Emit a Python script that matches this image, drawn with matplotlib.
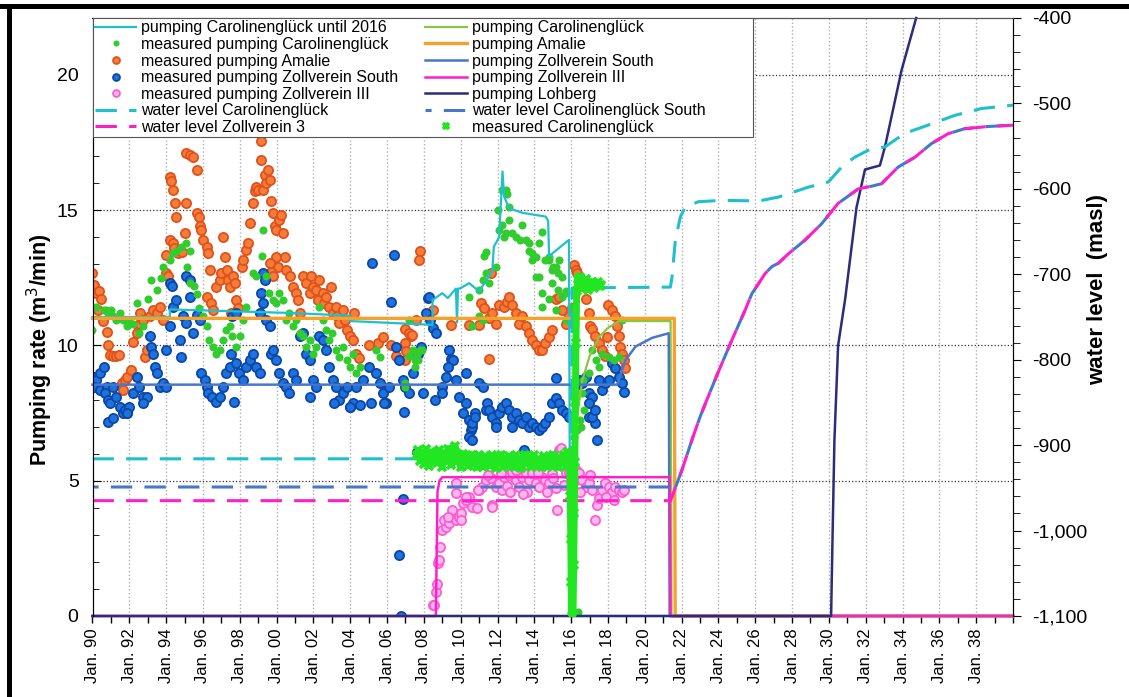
import matplotlib
matplotlib.use("Agg")
import matplotlib.pyplot as plt
import numpy as np
from matplotlib.lines import Line2D
from matplotlib.patches import Rectangle
from matplotlib.ticker import MultipleLocator, FuncFormatter

plt.rcParams["font.family"] = ["Liberation Sans", "DejaVu Sans"]

# ---------------- data ----------------
# modelled pumping rates (m3/min), left axis
cyan_pump_year = [1990, 1994.2, 1994.2, 2000.7, 2004.0, 2004.0, 2008.47, 2008.47, 2009.0, 2009.3,
                  2009.74, 2009.8, 2009.85, 2009.95, 2010.46, 2011.0, 2011.54, 2011.72, 2011.8,
                  2012.09, 2012.27, 2012.36, 2012.63, 2013.35, 2014.62, 2014.75, 2014.8, 2015.88,
                  2015.95, 2040]
cyan_pump = [11.05, 11.05, 11.33, 11.2, 11.1, 10.9, 10.76, 11.68, 11.93, 11.75,
             12.1, 10.85, 12.1, 12.1, 12.3, 12.0, 12.56, 12.8, 13.65,
             14.0, 16.43, 15.5, 15.07, 14.9, 14.76, 14.6, 13.3, 13.9,
             0, 0]

carol_pump_year = [1990, 2016.15, 2016.2, 2016.3, 2016.6, 2017.0, 2017.5, 2018.0, 2018.6, 2021.4, 2021.45, 2040]
carol_pump = [0, 0, 4.0, 7.3, 8.7, 9.6, 10.3, 10.65, 10.9, 10.9, 0, 0]

amalie_pump_year = [1990, 2021.6, 2021.65, 2040]
amalie_pump = [11.0, 11.0, 0, 0]

zvs_pump_year = [1990, 2018.5, 2018.95, 2019.5, 2020.4, 2021.3, 2021.35, 2040]
zvs_pump = [8.55, 8.55, 9.46, 9.96, 10.28, 10.45, 0, 0]

zv3_pump_year = [1990, 2008.65, 2008.7, 2008.74, 2008.85, 2009.0, 2021.35, 2021.4, 2040]
zv3_pump = [0, 0, 2.5, 4.6, 5.0, 5.13, 5.13, 0, 0]

lohberg_year = [1990, 2030.12, 2030.2, 2030.3, 2030.5, 2030.88, 2031.5, 2031.96, 2032.77, 2033.05,
                2033.95, 2034.74]
lohberg_pump = [0, 0, 3.0, 6.5, 10.0, 11.7, 15.1, 16.5, 16.65, 17.35, 20.18, 22.1]

# modelled water levels (masl), right axis
cyan_wl_year = [1990, 2016.02, 2016.05, 2021.39, 2021.48, 2021.66, 2021.93, 2022.2, 2022.92, 2024.2,
                2025.81, 2026.35, 2027.26, 2028.88, 2029.97, 2030.69, 2031.4, 2032.3, 2033.04,
                2034.12, 2035.57, 2036.83, 2038.28, 2040]
cyan_wl = [-916, -916, -716, -715, -703, -660, -633, -621, -615, -613.5,
           -614, -613.5, -609.6, -598, -592, -574.5, -563, -553, -551,
           -535, -524, -514, -506, -502]

zv3_wl_year = [1990, 2021.4, 2021.57, 2022.02, 2022.56, 2023.0, 2023.37, 2023.92, 2024.73, 2025.45,
               2025.81, 2026.54, 2026.9, 2027.26, 2027.8, 2028.7, 2029.6, 2030.5, 2031.6, 2032.3,
               2032.86, 2033.76, 2034.67, 2035.57, 2036.47, 2037.37, 2038.64, 2040]
zv3_wl = [-965, -965, -955, -929, -894, -867, -847, -818, -777, -742,
          -723, -699, -691, -687, -676, -660, -641, -617, -600, -597,
          -594, -574.5, -563, -547, -535.5, -529.6, -527, -525.5]

south_wl_year = [1990, 2021.4] + zv3_wl_year[2:]
south_wl = [-949, -949] + zv3_wl[2:]

# measured pumping rates (year, m3/min)
green_pts = [
    (1990.0, 10.57), (1990.2, 11.43), (1990.6, 11.3), (1990.75, 11.3), (1990.85, 11.2), (1991.0, 11.3),
    (1991.1, 11.07), (1991.3, 10.94), (1991.5, 11.2), (1991.65, 10.94), (1991.85, 10.7), (1992.0, 10.94),
    (1992.2, 10.8), (1992.4, 11.56), (1992.55, 10.45), (1992.75, 10.7), (1993.0, 11.7), (1993.2, 12.4),
    (1993.5, 12.05), (1993.7, 12.5), (1993.85, 12.9), (1994.2, 13.15), (1994.35, 13.4), (1994.55, 13.5),
    (1994.8, 13.65), (1995.1, 13.8), (1995.3, 13.5), (1995.15, 12.9), (1995.3, 12.3), (1995.5, 12.2),
    (1995.65, 11.9), (1995.8, 11.4), (1996.0, 11.07), (1996.2, 10.7), (1996.35, 10.2), (1996.55, 9.95),
    (1996.7, 9.7), (1996.9, 9.83), (1997.1, 10.2), (1997.25, 10.57), (1997.45, 10.7), (1997.6, 10.33),
    (1997.8, 9.95), (1998.0, 10.33), (1998.2, 10.94), (1998.35, 11.43), (1998.7, 12.67), (1998.9, 12.55),
    (1999.2, 13.3), (1999.26, 14.27), (1999.45, 12.55), (1999.6, 11.93), (1999.8, 11.68), (1999.98, 11.56),
    (2000.15, 11.93), (2000.35, 11.68), (2000.53, 10.94), (2000.7, 11.2), (2000.9, 10.7), (2001.05, 10.94),
    (2001.25, 10.45), (2001.45, 10.33), (2001.6, 9.95), (2001.8, 10.2), (2001.97, 9.7), (2002.15, 9.95),
    (2002.33, 11.43), (2002.5, 10.94), (2002.7, 10.57), (2002.87, 10.2), (2003.0, 10.45), (2003.2, 9.83),
    (2003.4, 9.58), (2003.6, 9.95), (2003.8, 9.46), (2003.96, 9.22), (2004.15, 9.7), (2004.3, 8.97),
    (2004.55, 9.22), (2005.4, 9.83), (2005.6, 9.58), (2006.95, 8.48), (2007.2, 10.94), (2007.5, 9.46),
    (2007.65, 9.7), (2007.8, 9.83), (2007.0, 8.6), (2007.4, 9.83), (2007.9, 9.83), (2007.2, 9.6),
    (2007.5, 9.2), (2007.7, 9.46),
    (2010.46, 11.8), (2011.0, 12.05), (2011.2, 12.4), (2011.36, 12.67), (2011.27, 13.3), (2011.36, 13.47),
    (2011.54, 12.3), (2011.9, 12.9), (2012.0, 15.0), (2012.26, 15.75), (2012.44, 15.75), (2012.53, 15.6),
    (2012.62, 15.13), (2012.08, 14.27), (2012.26, 14.45), (2012.35, 14.0), (2012.44, 14.15), (2012.62, 14.64),
    (2012.8, 14.15), (2013.0, 14.0), (2013.2, 13.9), (2013.35, 14.45), (2013.53, 13.9), (2013.7, 13.5),
    (2013.9, 13.4), (2014.07, 13.28), (2014.25, 13.78), (2014.43, 14.2), (2014.6, 13.16), (2014.8, 13.28),
    (2014.97, 12.8), (2015.15, 12.9), (2015.33, 13.16), (2015.5, 12.54), (2014.07, 12.54), (2014.43, 11.43),
    (2014.97, 12.3), (2015.3, 12.05), (2015.5, 11.8), (2015.7, 11.93), (2011.0, 11.07), (2011.2, 10.94),
    (2010.64, 10.7), (2013.7, 13.8), (2013.9, 13.16), (2014.8, 13.16), (2015.0, 12.9), (2015.3, 12.67),
    (2014.4, 11.93), (2015.15, 11.3), (2015.7, 12.0), (2015.97, 11.43), (2015.7, 10.94),
    (2014.8, 11.7), (2014.25, 12.54),
    (2016.33, 6.88), (2016.15, 6.6), (2016.42, 4.53), (2016.51, 7.0), (2016.5, 7.25), (2016.7, 7.6),
    (2016.6, 8.23), (2016.62, 8.72), (2016.96, 8.97), (2017.15, 9.83), (2017.33, 9.46), (2017.5, 9.2),
    (2017.7, 9.7), (2018.05, 9.58), (2018.3, 9.46), (2018.6, 9.58), (2018.77, 10.94),
    (2016.24, 0.1), (2016.35, 0.15), (2016.1, 0.05),
]

amalie_pts = [
    (1990.0, 12.67), (1990.1, 12.24), (1990.2, 11.93), (1990.35, 12.0), (1990.45, 11.7), (1990.3, 11.3),
    (1990.55, 10.9), (1990.77, 10.5), (1990.85, 10.0), (1990.95, 9.65), (1991.1, 9.6), (1991.3, 9.6),
    (1991.45, 9.65), (1991.6, 8.6), (1991.67, 8.35), (1991.76, 8.72), (1991.85, 8.85), (1992.1, 9.1),
    (1992.2, 10.14), (1992.4, 10.45), (1992.45, 10.75), (1992.57, 11.2), (1992.6, 10.8), (1992.75, 10.94),
    (1992.85, 9.58), (1992.95, 9.83), (1993.1, 11.07), (1993.3, 11.3), (1993.5, 11.2), (1993.65, 11.43),
    (1993.85, 10.94), (1994.0, 12.67), (1994.1, 12.55), (1994.2, 16.24), (1994.28, 16.06), (1994.38, 15.75),
    (1994.47, 15.25), (1994.56, 14.76), (1994.2, 13.9), (1994.35, 13.78), (1994.45, 13.6), (1994.65, 13.4),
    (1994.75, 13.53), (1994.85, 13.47), (1994.0, 13.35), (1995.0, 14.15), (1995.1, 17.1), (1995.3, 17.04),
    (1995.45, 16.98), (1995.65, 16.49), (1995.1, 15.25), (1995.7, 14.89), (1995.8, 14.76), (1995.85, 14.4),
    (1995.9, 14.27), (1996.0, 13.9), (1996.2, 13.65), (1996.3, 13.4), (1996.4, 12.8), (1996.2, 11.8),
    (1996.45, 11.56), (1996.55, 11.3), (1996.73, 12.17), (1996.9, 12.42), (1997.0, 12.67), (1997.1, 14.02),
    (1997.2, 13.28), (1997.3, 12.8), (1997.38, 12.42), (1997.45, 12.17), (1997.63, 12.55), (1997.72, 12.3),
    (1997.8, 11.68), (1997.9, 11.37), (1997.55, 11.2), (1998.1, 12.9), (1998.17, 13.16), (1998.35, 13.53),
    (1998.45, 13.78), (1998.54, 14.52), (1998.72, 15.25), (1998.8, 15.7), (1998.9, 15.87), (1999.0, 15.75),
    (1999.13, 17.54), (1999.17, 16.86), (1999.26, 15.75), (1999.35, 16.3), (1999.45, 16.0), (1999.54, 16.49),
    (1999.63, 16.12), (1999.72, 15.32), (1999.8, 14.89), (1999.9, 14.4), (1999.98, 14.27), (2000.15, 14.64),
    (2000.25, 14.82), (2000.35, 14.15), (2000.45, 13.28), (1999.98, 13.28), (2000.05, 12.91), (1999.63, 13.04),
    (1999.72, 12.73), (1999.8, 12.55), (2000.53, 12.8), (2000.72, 12.55), (2000.9, 12.17), (2001.08, 11.93),
    (2001.17, 11.68), (2001.25, 11.2), (2001.43, 12.55), (2001.6, 12.3), (2001.8, 11.93), (2001.88, 12.55),
    (2001.97, 12.17), (2002.15, 12.05), (2002.25, 11.68), (2002.33, 12.42), (2002.5, 11.93), (2002.6, 11.56),
    (2002.7, 11.8), (2002.87, 11.43), (2002.95, 12.17), (2003.05, 11.2), (2003.2, 11.43), (2003.3, 11.07),
    (2003.4, 10.82), (2003.6, 11.3), (2003.7, 10.94), (2003.8, 10.57), (2003.96, 10.33), (2004.15, 10.2),
    (2004.2, 11.2), (2004.32, 9.7), (2004.5, 9.52), (2005.0, 10.0), (2005.5, 10.08), (2005.8, 10.3),
    (2006.2, 10.0), (2006.5, 9.6),
    (2007.0, 10.6), (2007.2, 10.45), (2007.3, 10.33), (2007.35, 10.4), (2006.95, 10.1), (2007.05, 9.8),
    (2006.95, 9.46), (2007.57, 10.94), (2007.8, 13.5), (2007.75, 13.16), (2008.47, 11.3), (2009.46, 10.76),
    (2010.46, 10.76), (2011.0, 10.76), (2011.54, 9.5), (2011.09, 11.56), (2011.27, 11.4), (2011.54, 11.0),
    (2011.72, 11.2), (2011.9, 10.8), (2011.63, 12.67), (2012.08, 11.5), (2012.35, 11.43), (2012.5, 11.6),
    (2012.62, 11.8), (2012.8, 11.5), (2013.0, 11.2), (2013.17, 10.8), (2013.35, 11.07), (2013.53, 10.7),
    (2013.7, 10.45), (2013.9, 10.2), (2014.07, 10.0), (2014.25, 9.83), (2014.43, 9.83), (2014.6, 10.08),
    (2014.8, 10.3), (2014.97, 10.57), (2015.15, 11.7), (2015.33, 11.8), (2015.5, 11.3), (2015.7, 10.8),
    (2015.88, 11.1), (2016.05, 11.4), (2016.15, 12.97), (2016.24, 12.8), (2016.33, 12.67), (2016.5, 12.5),
    (2016.6, 12.2), (2016.78, 11.7), (2016.96, 11.2), (2017.05, 10.7), (2017.14, 10.6), (2017.3, 10.33),
    (2017.5, 10.1), (2017.68, 9.83), (2017.86, 9.6), (2017.95, 10.3), (2018.0, 11.5), (2018.2, 11.3),
    (2018.4, 11.07), (2018.5, 10.7), (2018.58, 10.33), (2018.68, 9.95), (2018.77, 9.7), (2018.86, 9.46),
    (2018.95, 9.15),
]

south_pts = [
    (1990.0, 8.85), (1990.2, 8.72), (1990.4, 8.97), (1990.6, 9.22), (1990.1, 8.48), (1990.4, 8.35),
    (1990.77, 8.48), (1990.7, 8.23), (1990.85, 8.0), (1990.95, 7.86), (1991.1, 8.48), (1991.3, 8.1),
    (1991.5, 7.74), (1991.67, 7.5), (1991.76, 7.6), (1991.85, 7.5), (1992.0, 7.74), (1992.2, 8.23),
    (1992.4, 8.85), (1992.55, 8.48), (1992.75, 8.1), (1992.95, 8.1), (1990.85, 7.18), (1991.9, 7.5),
    (1992.75, 7.86), (1993.1, 10.33), (1993.2, 9.95), (1993.3, 9.7), (1993.4, 9.2), (1993.5, 8.97),
    (1993.65, 8.48), (1993.85, 8.6), (1994.0, 8.48), (1994.2, 12.3), (1994.3, 12.2), (1994.38, 11.43),
    (1994.2, 10.7), (1994.0, 9.83), (1994.55, 11.68), (1995.1, 12.55), (1995.3, 12.4), (1995.3, 11.8),
    (1994.9, 11.07), (1995.1, 10.82), (1995.47, 10.45), (1995.65, 11.13), (1995.83, 10.94), (1994.75, 10.2),
    (1994.83, 9.58), (1995.9, 8.97), (1996.1, 8.72), (1996.2, 8.48), (1996.3, 8.23), (1996.5, 8.1),
    (1996.7, 7.92), (1996.9, 8.1), (1997.1, 8.48), (1997.25, 8.97), (1997.45, 9.22), (1997.6, 11.07),
    (1997.8, 11.2), (1997.55, 9.7), (1997.8, 9.34), (1997.95, 8.97), (1998.15, 8.72), (1998.35, 9.22),
    (1998.55, 9.46), (1998.72, 9.7), (1998.9, 9.22), (1999.1, 8.97), (1999.26, 12.67), (1999.35, 12.42),
    (1999.17, 11.93), (1999.26, 11.56), (1999.1, 11.2), (1999.45, 10.94), (1999.63, 10.7), (1999.72, 9.7),
    (1999.8, 9.83), (1999.98, 9.46), (2000.15, 8.97), (2000.35, 8.6), (2000.5, 8.48), (2000.7, 8.23),
    (2000.9, 8.97), (2001.08, 8.72), (2001.25, 10.33), (2001.43, 10.45), (2001.6, 9.7), (2001.8, 9.46),
    (2001.97, 8.72), (2002.15, 8.48), (2002.33, 10.33), (2002.5, 10.2), (2002.7, 9.83), (2002.87, 9.22),
    (2003.05, 8.72), (2003.2, 8.48), (2003.4, 8.0), (2003.6, 8.23), (2003.8, 8.48), (2003.96, 7.74),
    (2004.15, 7.86), (2004.32, 8.48), (2004.7, 8.72), (2005.0, 9.22), (2005.2, 13.04), (2005.4, 8.97),
    (2005.6, 8.6), (2005.8, 8.23), (2005.95, 7.86), (2006.1, 8.48), (2006.2, 11.62), (2006.4, 13.35),
    (2006.5, 9.95), (2006.65, 9.46), (2006.85, 8.72), (2007.0, 8.48), (2007.2, 8.23), (2007.4, 8.97),
    (2007.66, 9.7), (2007.85, 9.95), (2001.8, 8.1), (2003.1, 7.86), (2004.0, 7.74), (2004.55, 7.8),
    (2005.13, 7.86), (2005.85, 7.86), (2006.93, 7.55), (2006.66, 2.25), (2006.84, 4.33), (2006.75, 0.0),
    (2007.6, 6.07), (1997.7, 7.92), (1991.1, 7.3),
    (2008.1, 11.2), (2008.2, 11.74), (2008.3, 11.8), (2008.35, 10.94), (2008.47, 10.63), (2008.65, 10.45),
    (2007.93, 8.23), (2008.6, 8.0), (2009.0, 8.48), (2009.2, 8.85), (2009.37, 9.83), (2009.45, 9.5),
    (2009.6, 9.46), (2009.75, 8.72), (2009.9, 8.1), (2010.1, 7.5), (2010.28, 8.97), (2010.3, 7.86),
    (2010.46, 7.25), (2010.55, 6.88), (2010.64, 7.0), (2010.8, 7.5), (2011.0, 8.6), (2011.2, 8.48),
    (2011.36, 7.6), (2011.45, 7.86), (2011.54, 7.6), (2011.72, 7.37), (2011.9, 7.12), (2012.08, 7.5),
    (2012.26, 7.74), (2012.44, 7.86), (2012.62, 7.6), (2012.8, 7.37), (2012.98, 7.5), (2013.17, 7.25),
    (2013.35, 7.12), (2013.53, 7.37), (2013.7, 7.0), (2013.9, 7.12), (2014.07, 7.0), (2014.25, 6.88),
    (2014.43, 7.0), (2014.6, 7.12), (2014.8, 7.37), (2014.97, 7.86), (2015.15, 8.05), (2015.33, 7.86),
    (2015.5, 7.6), (2015.7, 7.5), (2015.88, 7.37), (2015.15, 8.78), (2010.64, 7.12), (2010.8, 7.37),
    (2010.46, 6.63), (2010.64, 6.5), (2011.9, 7.0), (2012.8, 7.0), (2013.44, 6.14), (2009.0, 8.23),
    (2009.3, 9.2), (2016.42, 8.72), (2016.6, 8.6), (2016.78, 8.85), (2016.96, 8.23), (2017.14, 8.1),
    (2016.96, 7.86), (2017.3, 7.12), (2017.4, 6.5), (2016.96, 7.37), (2017.68, 8.35), (2017.86, 8.6),
    (2018.04, 8.72), (2018.22, 9.34), (2018.4, 9.15), (2018.58, 8.85), (2018.77, 8.6), (2018.86, 8.29),
    (2017.5, 8.72), (2017.14, 7.37), (2017.3, 7.6), (2016.2, 8.5), (2016.3, 8.7),
]

zv3_pts = [
    (2008.47, 0.41), (2008.56, 0.41), (2008.65, 0.9), (2008.7, 1.2), (2008.74, 1.95), (2008.8, 2.07),
    (2008.85, 2.56), (2009.0, 3.18), (2009.2, 3.3), (2009.1, 3.55), (2009.37, 3.43), (2009.46, 3.67),
    (2009.55, 3.92), (2009.74, 3.55), (2009.92, 3.67), (2010.0, 3.8), (2009.74, 4.53), (2010.1, 4.17),
    (2010.28, 4.29), (2010.46, 4.41), (2010.64, 4.04), (2010.9, 3.98), (2011.0, 4.66), (2011.18, 4.78),
    (2011.36, 5.03), (2011.63, 5.09), (2011.72, 4.1), (2011.9, 4.78), (2012.08, 4.9), (2012.35, 5.15),
    (2012.62, 5.21), (2012.8, 5.34), (2012.98, 5.03), (2013.17, 4.78), (2013.35, 5.15), (2013.53, 5.27),
    (2013.71, 5.03), (2013.9, 5.27), (2014.07, 4.9), (2014.25, 4.78), (2014.43, 5.15), (2014.6, 5.03),
    (2014.8, 4.9), (2014.97, 5.27), (2015.15, 4.72), (2015.25, 3.92), (2015.34, 6.14), (2015.43, 6.2),
    (2015.6, 4.84), (2015.7, 5.27), (2015.88, 5.34), (2015.97, 5.15), (2016.24, 5.4), (2016.42, 5.27),
    (2016.6, 5.03), (2016.78, 4.78), (2016.96, 4.9), (2017.14, 4.66), (2017.32, 3.55), (2017.4, 4.1),
    (2017.5, 4.35), (2017.68, 4.66), (2017.86, 4.9), (2018.05, 4.78), (2018.22, 4.6), (2018.4, 4.78),
    (2018.58, 4.66), (2018.77, 4.6), (2018.86, 4.66), (2009.3, 3.67), (2010.0, 3.55), (2010.28, 4.41),
    (2010.95, 4.66), (2011.7, 4.04), (2012.25, 4.66), (2009.74, 4.9), (2011.5, 5.2), (2012.2, 5.3),
    (2012.5, 4.8), (2013.0, 5.4), (2013.6, 4.6), (2014.2, 5.3), (2014.7, 4.6), (2015.0, 5.1),
    (2016.1, 4.9), (2016.5, 4.6), (2017.0, 5.2), (2017.9, 4.4), (2018.3, 4.3), (2013.4, 4.5), (2012.7, 4.6),
]

# measured water level Carolinenglueck (masl), right axis
mwl_year = list(np.round(np.arange(2007.6, 2015.95, 0.1), 2)) + [
    2015.95, 2015.98, 2016.0, 2016.02, 2016.1, 2016.14, 2016.17, 2016.2, 2016.23, 2016.26, 2016.3,
    2016.35, 2016.43, 2016.5, 2016.58, 2016.66, 2016.74, 2016.82, 2016.9, 2016.98, 2017.06, 2017.14,
    2017.22, 2017.3, 2017.38, 2017.46, 2017.54, 2017.6]
mwl_level = [
    -912, -906, -918, -909, -922, -905, -915, -924, -908, -917,
    -910, -921, -906, -916, -925, -909, -919, -904, -914, -923,
    -907, -901, -918, -912, -926, -910, -920, -913, -924, -915,
    -911, -922, -914, -926, -912, -919, -925, -913, -921, -916,
    -924, -912, -918, -927, -914, -920, -911, -925, -917, -922,
    -913, -923, -916, -926, -912, -921, -915, -927, -918, -911,
    -922, -914, -925, -917, -912, -924, -916, -920, -926, -913,
    -919, -925, -914, -921, -911, -923, -917, -926, -915, -920,
    -912, -924, -908, -918,
    -960, -1010, -1060, -1100, -1100, -1040, -980, -920, -850, -780, -720,
    -706, -712, -703, -716, -708, -713, -706, -718, -710, -714, -709,
    -716, -711, -713, -709, -714, -712]

year_ticks = list(range(1990, 2039, 2))
year_labels = [f"Jan. {y % 100:02d}" for y in year_ticks]

# ---------------- colours ----------------
c_cyan = "#1FC0CE"
c_green = "#33CC2E"
c_green_x = "#22E622"
c_olive = "#8CC63F"
c_orange = "#F5A22D"
c_blue = "#4677CB"
c_magenta = "#FF1FC8"
c_navy = "#2C2B7C"

# ---------------- figure ----------------
W, H = 1129, 697
fig = plt.figure(figsize=(W / 100, H / 100), dpi=100)
ax = fig.add_axes([92.5 / W, 81 / H, (1013 - 92.5) / W, 598 / H])
ax2 = ax.twinx()


def pts(p):
    a = np.array(p)
    return a[:, 0], a[:, 1]


gx, gy = pts(green_pts)
axx, ayy = pts(amalie_pts)
sx, sy = pts(south_pts)
zx, zy = pts(zv3_pts)

h = {}
h["amalie_m"], = ax.plot(axx, ayy, "o", ms=6.6, mfc="#F47D3A", mec="#E2511A", mew=1.3,
                          label="measured pumping Amalie", zorder=3)
h["south_m"], = ax.plot(sx, sy, "o", ms=6.6, mfc="#1D72DE", mec="#0B47A6", mew=1.3,
                         label="measured pumping Zollverein South", zorder=3)
h["green_m"], = ax.plot(gx, gy, "o", ms=5.8, mfc=c_green, mec=c_green, mew=0,
                         label="measured pumping Carolinenglück", zorder=3)
h["zv3_m"], = ax.plot(zx, zy, "o", ms=6.6, mfc="#FFB8EC", mec="#FF5CD3", mew=1.3,
                       label="measured pumping Zollverein III", zorder=3)

line_kw = dict(zorder=4, clip_on=False)
h["cyan_p"], = ax.plot(cyan_pump_year, cyan_pump, color=c_cyan, lw=1.6,
                        label="pumping Carolinenglück until 2016", **line_kw)
h["amalie_p"], = ax.plot(amalie_pump_year, amalie_pump, color=c_orange, lw=2.4,
                          label="pumping Amalie", **line_kw)
h["carol_p"], = ax.plot(carol_pump_year, carol_pump, color=c_olive, lw=1.6,
                         label="pumping Carolinenglück", **line_kw)
h["south_p"], = ax.plot(zvs_pump_year, zvs_pump, color=c_blue, lw=1.8,
                         label="pumping Zollverein South", **line_kw)
h["zv3_p"], = ax.plot(zv3_pump_year, zv3_pump, color=c_magenta, lw=1.8,
                       label="pumping Zollverein III", **line_kw)
h["lohberg"], = ax.plot(lohberg_year, lohberg_pump, color=c_navy, lw=1.8,
                         label="pumping Lohberg", zorder=5, clip_on=False)

# water levels on the right axis
h["cyan_wl"], = ax2.plot(cyan_wl_year, cyan_wl, color=c_cyan, lw=2.2, ls=(0, (7, 4)),
                          label="water level Carolinenglück")
h["south_wl"], = ax2.plot(south_wl_year, south_wl, color=c_blue, lw=2.2, ls=(5, (7, 4)),
                           label="water level Carolinenglück South")
h["zv3_wl"], = ax2.plot(zv3_wl_year, zv3_wl, color=c_magenta, lw=2.2, ls=(0, (7, 4)),
                         label="water level Zollverein 3")
ax2.plot(mwl_year, mwl_level, color=c_green_x, lw=5.0, zorder=3)
h["mwl"], = ax2.plot(mwl_year, mwl_level, "x", color=c_green_x, ms=6, mew=2.6,
                      label="measured Carolinenglück", zorder=3)

# ---------------- axes ----------------
ax.set_xlim(1990, 2040)
ax.set_ylim(0, 22.1)
ax2.set_ylim(-1100, -400)

ax.set_xticks(year_ticks)
ax.set_xticklabels(year_labels, rotation=90, fontsize=12)
ax.xaxis.set_minor_locator(MultipleLocator(1))
ax.tick_params(axis="x", which="both", direction="out", length=5, width=1, pad=4)

ax.set_yticks([0, 5, 10, 15, 20])
ax.yaxis.set_minor_locator(MultipleLocator(1))
ax.tick_params(axis="y", which="major", direction="in", length=6, labelsize=14, pad=10)
ax.tick_params(axis="y", which="minor", direction="in", length=4)

ax2.yaxis.set_major_locator(MultipleLocator(100))
ax2.yaxis.set_minor_locator(MultipleLocator(20))
ax2.yaxis.set_major_formatter(FuncFormatter(lambda v, p: f"{v:,.0f}"))
ax2.tick_params(axis="y", which="major", direction="out", length=6, labelsize=14, pad=8)
ax2.tick_params(axis="y", which="minor", direction="out", length=5)

ax.grid(axis="x", which="major", color="#b0b0b0", linestyle=":", linewidth=1.0)
ax.grid(axis="y", which="major", color="#333333", linestyle=":", linewidth=0.9)
ax.set_axisbelow(True)

for a in (ax, ax2):
    a.spines["bottom"].set_visible(False)
ax2.spines["left"].set_color("black")
ax2.spines["right"].set_color("black")
ax2.spines["top"].set_color("#555555")
ax2.spines["top"].set_linewidth(0.8)

fig.text(40 / W, 1 - 350 / H, "Pumping rate (m$^3$/min)", rotation=90, fontsize=15.5,
         fontweight="bold", ha="center", va="center")
fig.text(1098 / W, 1 - 290 / H, "water level  (masl)", rotation=90, fontsize=16,
         fontweight="bold", ha="center", va="center")

# legend box (fixed size as in the original) with the legend entries inside
ax2.add_patch(Rectangle((0, (616 - 137) / 598), (753 - 92.5) / 920.5, 1 - (616 - 137) / 598,
                        transform=ax2.transAxes, facecolor="white", edgecolor="#555555",
                        linewidth=0.8, zorder=9))
order = ["cyan_p", "green_m", "amalie_m", "south_m", "zv3_m", "cyan_wl", "zv3_wl",
         "carol_p", "amalie_p", "south_p", "zv3_p", "lohberg", "south_wl", "mwl"]
leg = ax2.legend([h[k] for k in order], [h[k].get_label() for k in order],
                 loc="upper left", bbox_to_anchor=(0, 1), borderaxespad=0, ncol=2,
                 fontsize=11.5, handlelength=2.6, handletextpad=0.3, columnspacing=1.7,
                 labelspacing=0.1, borderpad=0.15, markerscale=0.75, frameon=False)
leg.set_zorder(10)

# black frame fragments of the original page
fig.add_artist(Line2D([0, 1], [1 - 5.5 / H] * 2, color="black", lw=3.6))
fig.add_artist(Line2D([8.5 / W] * 2, [0, 1 - 5.5 / H], color="black", lw=3.6))

fig.savefig("out.png", dpi=100)
